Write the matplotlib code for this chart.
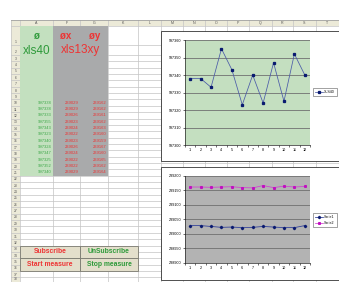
import matplotlib.pyplot as plt
from matplotlib.patches import Rectangle
import numpy as np

plt.rcParams['font.family'] = ['Liberation Sans', 'DejaVu Sans']

# values (rows 10-21) and the two charts
points = [1, 2, 3, 4, 5, 6, 7, 8, 9, 10, 11, 12]
xls40 = [997338, 997338, 997333, 997355, 997343, 997323, 997340, 997324, 997347, 997325, 997352, 997340]
serie1 = [239029, 239029, 239026, 239023, 239024, 239022, 239023, 239026, 239024, 239022, 239022, 239029]
serie2 = [239162, 239162, 239161, 239162, 239163, 239160, 239159, 239167, 239160, 239165, 239162, 239164]

col_names = ['A', 'F', 'G', 'K', 'L', 'M', 'N', 'O', 'P', 'Q', 'R', 'S', 'T']
col_edges = [20, 53, 80, 108, 138, 161, 183, 205, 227, 249, 272, 293, 316, 339]
button_labels = [['Subscribe', 'UnSubscribe'], ['Start measure', 'Stop measure']]

W, H = 339, 282
RED = '#ee3333'
GREEN = '#2e9a3a'
GRID = '#c4c4c4'
HEAD = '#ecead8'


def row_top(r):
    if r == 1:
        return 26
    if r == 2:
        return 45
    return 55 + (r - 3) * 6.35


def px_axes(x0, y0, x1, y1):
    return fig.add_axes([x0 / W, 1 - y1 / H, (x1 - x0) / W, (y1 - y0) / H])


fig = plt.figure(figsize=(W / 100, H / 100), dpi=100)
bg = fig.add_axes([0, 0, 1, 1])
bg.set_xlim(0, W)
bg.set_ylim(H, 0)
bg.axis('off')

# sheet headers
bg.add_patch(Rectangle((11, 20), W - 11, 6, facecolor=HEAD, edgecolor='none', zorder=1))
bg.add_patch(Rectangle((11, 20), 9, H - 20, facecolor=HEAD, edgecolor='none', zorder=1))
for i, name in enumerate(col_names):
    bg.text((col_edges[i] + col_edges[i + 1]) / 2, 23.2, name, fontsize=2.6, color='#555555',
            ha='center', va='center', zorder=3)

# gridlines
for r in range(1, 40):
    y = row_top(r)
    bg.plot([11, W], [y, y], color=GRID, lw=0.5, zorder=2)
    if r <= 38:
        bg.text(15.5, min(row_top(r + 1), H) - 0.6, str(r), fontsize=2.4, color='#555555',
                ha='center', va='bottom', zorder=3)
for x in [11] + col_edges:
    bg.plot([x, x], [20, H], color=GRID, lw=0.5, zorder=2)
bg.plot([11, W], [20, 20], color='#a0a0a0', lw=0.6, zorder=2)

# coloured columns
bottom = row_top(22)
bg.add_patch(Rectangle((20, 26), 33, bottom - 26, facecolor='#c3e0bf', edgecolor='none', zorder=2.5))
bg.add_patch(Rectangle((53, 26), 55, bottom - 26, facecolor='#a9aaab', edgecolor='none', zorder=2.5))

bg.text(36.5, 36, 'ø', fontsize=7, color=GREEN, ha='center', va='center', weight='bold', zorder=3)
bg.text(66, 36, 'øx', fontsize=7, color=RED, ha='center', va='center', weight='bold', zorder=3)
bg.text(95, 36, 'øy', fontsize=7, color=RED, ha='center', va='center', weight='bold', zorder=3)
bg.text(36.5, 50.5, 'xls40', fontsize=8.5, color=GREEN, ha='center', va='center', zorder=3)
bg.text(80.5, 50.5, 'xls13xy', fontsize=8.5, color=RED, ha='center', va='center', zorder=3)

for i in range(len(points)):
    yc = (row_top(10 + i) + row_top(11 + i)) / 2
    bg.text(51.5, yc, str(xls40[i]), fontsize=3.0, color='#3fa84a', ha='right', va='center', zorder=3)
    bg.text(78.5, yc, str(serie1[i]), fontsize=3.0, color=RED, ha='right', va='center', zorder=3)
    bg.text(106.5, yc, str(serie2[i]), fontsize=3.0, color=RED, ha='right', va='center', zorder=3)

# buttons
for j, row in enumerate(button_labels):
    y0 = row_top(33 + 2 * j)
    y1 = row_top(35 + 2 * j)
    for k, lab in enumerate(row):
        x0, x1 = (20, 80) if k == 0 else (80, 138)
        bg.add_patch(Rectangle((x0, y0), x1 - x0, y1 - y0, facecolor='#e3dfcb',
                               edgecolor='#7a7a70', lw=0.6, zorder=4))
        bg.text((x0 + x1) / 2, (y0 + y1) / 2, lab, fontsize=4.9, weight='bold',
                color=RED if k == 0 else GREEN, ha='center', va='center', zorder=5)

# chart frames
bg.add_patch(Rectangle((161, 31), 190, 130, facecolor='white', edgecolor='#333333', lw=0.6, zorder=6))
bg.add_patch(Rectangle((161, 167), 190, 113, facecolor='white', edgecolor='#333333', lw=0.6, zorder=6))


def style_chart(ax, face, ymin, ymax, step):
    ax.set_facecolor(face)
    ax.set_xlim(0.5, 12.5)
    ax.set_ylim(ymin, ymax)
    ax.set_yticks(np.arange(ymin, ymax + 1, step))
    ax.set_xticks(points)
    ax.set_xticks(np.arange(0.5, 13, 1), minor=True)
    ax.ticklabel_format(useOffset=False, style='plain', axis='y')
    ax.grid(axis='y', color='#707070', lw=0.6)
    ax.set_axisbelow(True)
    ax.tick_params(axis='both', which='major', labelsize=2.7, length=0, pad=2.5)
    ax.tick_params(axis='y', which='major', length=1.5, width=0.4, pad=1.2)
    ax.tick_params(axis='x', which='minor', length=1.5, width=0.4)
    for s in ['top', 'right']:
        ax.spines[s].set_visible(False)
    for s in ['left', 'bottom']:
        ax.spines[s].set_linewidth(0.5)
        ax.spines[s].set_color('#222222')


def side_legend(ax, yfrac):
    leg = ax.legend(loc='center left', bbox_to_anchor=(1.024, yfrac), fontsize=2.6, frameon=True,
                    fancybox=False, edgecolor='#333333', borderpad=0.5, handlelength=2.2,
                    handletextpad=0.4, borderaxespad=0, labelspacing=0.6)
    leg.get_frame().set_linewidth(0.4)


ax1 = px_axes(185, 40, 310, 145)
style_chart(ax1, '#c4dfc0', 997300, 997360, 10)
ax1.plot(points, xls40, color='#4a5aa8', lw=0.55, marker='s', ms=1.4, mfc='#0a1a70', mec='#0a1a70', label='XLS40')
side_legend(ax1, 0.505)

ax2 = px_axes(185, 176, 310, 263)
style_chart(ax2, '#b3b3b3', 238900, 239200, 50)
ax2.plot(points, serie1, color='#2a3a98', lw=0.55, marker='D', ms=1.2, mfc='#0a1a70', mec='#0a1a70', label='Serie1')
ax2.plot(points, serie2, color='#d040d0', lw=0.55, marker='s', ms=1.2, mfc='#c010c0', mec='#c010c0', label='Serie2')
side_legend(ax2, 0.49)

fig.savefig('out.png', dpi=100)
